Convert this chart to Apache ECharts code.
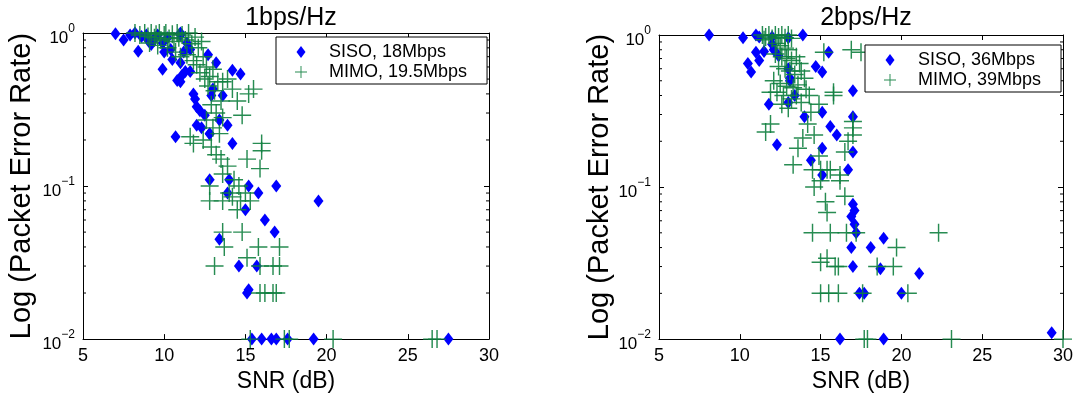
<!DOCTYPE html>
<html>
<head>
<meta charset="utf-8">
<script src="https://cdn.jsdelivr.net/npm/echarts@6/dist/echarts.min.js"></script>
<style>html,body{margin:0;padding:0;background:#fff}#c{width:1078px;height:398px}</style>
</head>
<body>
<div id="c"></div>
<script>
// ---- data (SNR dB, packet error rate) ----
const titles = ['1bps/Hz', '2bps/Hz'];
const xTicks = [5, 10, 15, 20, 25, 30];
const yTicks = [0.01, 0.1, 1];
const yMinorTicks = [0.02,0.03,0.04,0.05,0.06,0.07,0.08,0.09,0.2,0.3,0.4,0.5,0.6,0.7,0.8,0.9];
const xLabel = 'SNR (dB)';
const yLabel = 'Log (Packet Error Rate)';
const seriesNames1 = ['SISO, 18Mbps', 'MIMO, 19.5Mbps'];
const seriesNames2 = ['SISO, 36Mbps', 'MIMO, 39Mbps'];

const siso1 = [
[7.0,0.99],[7.5,0.9],[7.9,0.97],[8.2,1.0],[8.4,0.76],[8.9,0.97],[9.0,0.9],[9.2,0.84],[9.6,0.97],[9.9,0.86],
[10.2,0.93],[10.4,0.78],[11.0,0.97],[11.4,0.86],[11.6,0.78],[11.2,0.75],[11.0,0.64],[11.3,0.56],[11.0,0.48],
[11.9,0.37],[11.8,0.40],[12.7,0.72],[13.2,0.64],[14.2,0.57],[14.7,0.54],[13.0,0.43],[12.9,0.39],[13.6,0.39],
[12.2,0.31],[12.5,0.29],[12.0,0.25],[12.3,0.24],[13.4,0.27],[13.9,0.25],[12.8,0.22],[10.7,0.21],[9.9,0.58],
[10.5,0.67],[11.6,0.56],[11.1,0.53],[10.8,0.49],[12.0,0.33],[11.0,1.0],[9.4,0.92],[10.0,0.75],[8.6,0.95],
[12.8,0.22],[14.2,0.19],[12.8,0.11],[14.0,0.11],[15.2,0.1],[16.9,0.1],[13.9,0.09],[15.8,0.09],[19.5,0.08],
[15.0,0.07],[16.2,0.06],[16.8,0.05],[13.4,0.045],[14.6,0.03],[15.7,0.03],[15.1,0.02],[15.2,0.021],
[15.4,0.01],[16.0,0.01],[16.6,0.01],[16.9,0.01],[17.6,0.01],[19.2,0.01],[27.5,0.01]
];
const mimo1 = [
[8.2,1.0],[8.5,0.97],[8.8,1.0],[9.0,0.95],[9.2,1.0],[9.4,0.93],[9.5,0.98],[9.7,1.0],[9.8,0.9],[10.0,0.97],
[10.1,1.0],[10.3,0.92],[10.5,0.98],[10.6,0.88],[10.8,1.0],[10.9,0.93],[11.1,0.97],[11.3,0.9],[11.5,1.0],
[11.7,0.85],[11.9,0.94],[12.1,0.8],[12.3,0.88],[9.1,0.86],[9.6,0.83],[10.2,0.8],[10.7,0.75],[11.0,0.7],
[11.4,0.72],[11.8,0.66],[12.0,0.62],[12.4,0.7],[12.6,0.6],[12.2,0.55],[12.5,0.5],[12.8,0.52],[13.0,0.58],
[13.3,0.48],[12.7,0.45],[13.1,0.42],[13.6,0.48],[13.9,0.5],[14.2,0.43],[14.5,0.36],[15.2,0.4],[15.5,0.43],
[14.8,0.29],[13.5,0.36],[12.9,0.34],[13.2,0.3],[13.6,0.28],[12.6,0.27],[13.0,0.24],[13.4,0.22],[11.6,0.21],
[11.8,0.19],[12.4,0.2],[12.9,0.18],[13.2,0.16],[13.5,0.15],[16.0,0.19],[16.0,0.17],[15.1,0.15],[15.9,0.13],
[13.9,0.135],[13.6,0.12],[12.8,0.1],[14.3,0.11],[14.6,0.1],[15.0,0.09],[14.0,0.09],[12.8,0.08],[13.6,0.08],
[14.2,0.085],[14.7,0.08],[15.3,0.08],[14.5,0.07],[13.6,0.05],[14.8,0.05],[13.7,0.04],[15.8,0.04],[17.1,0.04],
[13.1,0.03],[15.1,0.034],[15.9,0.03],[16.7,0.03],[17.1,0.03],[15.9,0.02],[16.2,0.02],[16.7,0.02],[16.9,0.02],
[15.3,0.01],[17.4,0.01],[17.7,0.01],[20.4,0.01],[26.5,0.01],[26.8,0.01]
];
const siso2 = [
[8.1,1.0],[10.2,0.96],[11.0,1.0],[11.2,0.97],[12.0,0.97],[13.0,0.96],[13.9,1.0],[12.0,0.87],[11.0,0.77],
[11.5,0.78],[11.2,0.68],[10.5,0.65],[10.7,0.57],[12.1,0.8],[12.4,0.73],[13.0,0.6],[13.1,0.52],[13.1,0.5],
[13.4,0.4],[13.0,0.36],[11.8,0.35],[14.7,0.62],[15.1,0.57],[15.5,0.77],[17.0,0.43],[14.0,0.29],[15.1,0.31],
[15.6,0.25],[16.0,0.22],[17.0,0.29],[12.3,0.19],[15.1,0.18],[14.4,0.15],[17.0,0.17],[16.7,0.13],[15.1,0.12],
[17.0,0.077],[17.1,0.07],[16.9,0.064],[17.1,0.057],[17.2,0.05],[18.9,0.046],[16.9,0.04],[18.1,0.04],
[17.0,0.03],[18.7,0.029],[21.1,0.027],[17.4,0.02],[17.7,0.02],[20.0,0.02],[16.2,0.01],[18.9,0.01],[29.3,0.011]
];
const mimo2 = [
[11.4,1.0],[11.6,0.97],[11.8,1.0],[12.0,0.95],[12.2,1.0],[12.4,0.97],[12.6,1.0],[12.8,0.96],[13.0,1.0],
[13.2,0.95],[11.5,0.93],[12.3,0.88],[12.5,0.85],[12.8,0.82],[13.0,0.8],[12.2,0.75],[12.6,0.72],[12.9,0.7],
[13.2,0.68],[13.5,0.72],[13.7,0.65],[12.4,0.62],[12.8,0.6],[13.1,0.58],[13.4,0.55],[13.8,0.58],[14.0,0.52],
[12.1,0.5],[12.5,0.48],[12.9,0.46],[13.3,0.45],[13.6,0.47],[14.1,0.44],[11.9,0.42],[12.3,0.42],[12.7,0.4],
[13.2,0.38],[13.5,0.4],[13.8,0.36],[12.6,0.35],[13.0,0.33],[14.3,0.4],[16.9,0.8],[17.5,0.77],[15.2,0.77],
[15.8,0.42],[15.8,0.4],[14.9,0.35],[14.4,0.31],[11.9,0.26],[11.6,0.23],[14.2,0.26],[14.6,0.22],[17.0,0.27],
[17.0,0.245],[17.0,0.22],[13.9,0.21],[13.6,0.18],[13.3,0.14],[14.9,0.16],[16.7,0.2],[16.5,0.17],[14.5,0.13],
[15.0,0.13],[15.4,0.13],[15.6,0.13],[16.2,0.12],[15.0,0.11],[16.2,0.11],[14.6,0.1],[16.5,0.087],[15.3,0.08],
[15.4,0.068],[14.5,0.05],[15.6,0.05],[16.6,0.05],[17.2,0.05],[22.3,0.05],[19.7,0.04],[15.4,0.034],[15.0,0.032],
[15.9,0.03],[16.1,0.03],[18.5,0.03],[19.5,0.03],[15.0,0.02],[15.5,0.02],[16.1,0.02],[17.6,0.02],[20.4,0.02],
[17.7,0.01],[17.9,0.01],[23.1,0.01],[30.0,0.01]
];

// ---- chart ----
const FONT = 'Liberation Sans, Arial, Helvetica, sans-serif';
const BLUE = '#0000ff';
const GREEN = '#10803f';
const DIAMOND = 'path://M3,0L6,4L3,8L0,4Z';
const CROSS = 'path://M0,9.2H20V10.8H0Z M9.2,0H10.8V20H9.2Z';
const xMin = xTicks[0], xMax = xTicks[xTicks.length - 1];
const yMin = yTicks[0], yMax = yTicks[yTicks.length - 1];

const grids = [
  {left: 83, top: 33, width: 406, height: 315},
  {left: 659, top: 35, width: 404, height: 317}
];
const yNameGaps = [47, 27];

function yFmt(v) {
  const e = Math.round(Math.log10(v));
  return '{b|10}{s|' + (e < 0 ? '\u2212' + (-e) : e) + '}';
}

const xAxes = [], yAxes = [], series = [], legends = [], titleComps = [];
grids.forEach((g, i) => {
  xAxes.push({
    gridIndex: i, type: 'value', min: xMin, max: xMax, interval: 5, position: 'bottom',
    name: xLabel, nameLocation: 'middle', nameGap: 24,
    nameTextStyle: {fontFamily: FONT, fontSize: 23, color: '#000'},
    axisLine: {onZero: false, lineStyle: {color: '#000', width: 1}},
    axisTick: {inside: true, length: 5, lineStyle: {color: '#000'}},
    axisLabel: {margin: 8, fontFamily: FONT, fontSize: 18, color: '#000'},
    splitLine: {show: false}
  });
  xAxes.push({
    gridIndex: i, type: 'value', min: xMin, max: xMax, interval: 5, position: 'top',
    axisLine: {onZero: false, lineStyle: {color: '#000', width: 1}},
    axisTick: {inside: true, length: 5, lineStyle: {color: '#000'}},
    axisLabel: {show: false}, splitLine: {show: false}
  });
  yAxes.push({
    gridIndex: i, type: 'log', logBase: 10, min: yMin, max: yMax, position: 'left',
    name: yLabel, nameLocation: 'middle', nameGap: yNameGaps[i], nameRotate: 90,
    nameTextStyle: {fontFamily: FONT, fontSize: 29, color: '#000'},
    axisLine: {onZero: false, lineStyle: {color: '#000', width: 1}},
    axisTick: {inside: true, length: 5, lineStyle: {color: '#000'}},
    axisLabel: {margin: 8, formatter: yFmt, color: '#000',
      rich: {b: {fontFamily: FONT, fontSize: 17, color: '#000', padding: [10, 0, 0, 0]},
             s: {fontFamily: FONT, fontSize: 12, color: '#000', padding: [0, 0, 8, 0]}}},
    splitLine: {show: false}
  });
  yAxes.push({
    gridIndex: i, type: 'log', logBase: 10, min: yMin, max: yMax, position: 'right',
    axisLine: {onZero: false, lineStyle: {color: '#000', width: 1}},
    axisTick: {inside: true, length: 5, lineStyle: {color: '#000'}},
    axisLabel: {show: false}, splitLine: {show: false}
  });
});

const dataSets = [[siso1, mimo1, seriesNames1], [siso2, mimo2, seriesNames2]];
dataSets.forEach((d, i) => {
  const xi = i * 2, yi = i * 2;
  series.push({
    type: 'scatter', name: d[2][0], xAxisIndex: xi, yAxisIndex: yi, data: d[0], clip: false,
    symbol: DIAMOND, symbolSize: [10, 13], itemStyle: {color: BLUE, opacity: 1}
  });
  series.push({
    type: 'scatter', name: d[2][1], xAxisIndex: xi, yAxisIndex: yi, data: d[1], clip: false,
    symbol: CROSS, symbolSize: 18, itemStyle: {color: GREEN, opacity: 0.9}
  });
  // minor log ticks on left and right edges
  const minor = [];
  yMinorTicks.forEach(v => { minor.push([xMin, v]); minor.push([xMax, v]); });
  series.push({
    type: 'custom', xAxisIndex: xi, yAxisIndex: yi, data: minor, clip: false, silent: true,
    renderItem: function (params, api) {
      const side = api.value(0);
      const p = api.coord([side, api.value(1)]);
      const dir = side === xMin ? 1 : -1;
      return {type: 'line', shape: {x1: p[0], y1: p[1], x2: p[0] + dir * 3, y2: p[1]},
              style: {stroke: '#000', lineWidth: 1}};
    }
  });
  titleComps.push({
    text: titles[i], left: grids[i].left + grids[i].width / 2, top: 1, textAlign: 'center',
    textStyle: {fontFamily: FONT, fontSize: 25, fontWeight: 'normal', color: '#000'}
  });
});

const legendBase = {
  orient: 'vertical', borderColor: '#000', borderWidth: 1, padding: [6, 20, 3, 19], itemGap: 2,
  itemWidth: 32, itemHeight: 12, backgroundColor: '#fff',
  textStyle: {fontFamily: FONT, fontSize: 18, color: '#000', padding: [0, 0, 0, 7]}
};
legends.push(Object.assign({data: seriesNames1, left: 276, top: 37}, legendBase));
legends.push(Object.assign({data: seriesNames2, left: 865, top: 45}, legendBase));

const chart = echarts.init(document.getElementById('c'), null, {renderer: 'canvas'});
chart.setOption({
  animation: false,
  backgroundColor: '#fff',
  title: titleComps,
  grid: grids,
  xAxis: xAxes,
  yAxis: yAxes,
  legend: legends,
  series: series
});
</script>
</body>
</html>
